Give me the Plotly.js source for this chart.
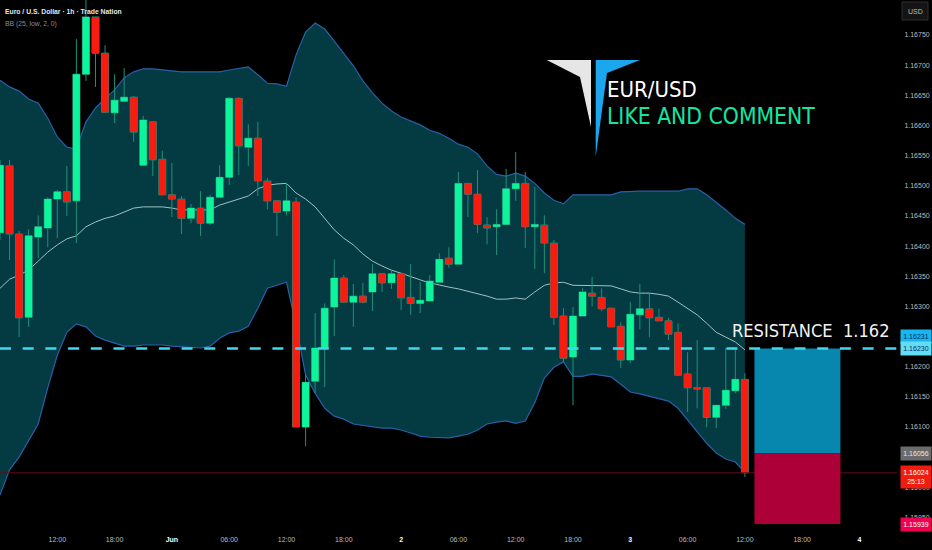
<!DOCTYPE html>
<html><head><meta charset="utf-8">
<script src="https://cdn.plot.ly/plotly-3.0.1.min.js"></script>
<style>html,body{margin:0;padding:0;background:#000}#c{width:932px;height:550px}</style>
</head><body><div id="c"></div>
<script>
const open = [1.16422,1.16533,1.16420,1.16282,1.16415,1.16430,1.16478,1.16490,1.16475,1.16685,1.16780,1.16720,1.16621,1.16640,1.16647,1.16534,1.16606,1.16544,1.16485,1.16478,1.16446,1.16463,1.16438,1.16481,1.16514,1.16645,1.16564,1.16579,1.16508,1.16475,1.16458,1.16473,1.16100,1.16176,1.16231,1.16299,1.16347,1.16307,1.16317,1.16324,1.16354,1.16339,1.16354,1.16315,1.16305,1.16309,1.16340,1.16380,1.16370,1.16504,1.16486,1.16435,1.16432,1.16436,1.16495,1.16504,1.16432,1.16435,1.16405,1.16284,1.16216,1.16284,1.16322,1.16315,1.16297,1.16267,1.16211,1.16286,1.16296,1.16282,1.16276,1.16257,1.16188,1.16165,1.16165,1.16116,1.16136,1.16160,1.16179];
const high = [1.16543,1.16543,1.16425,1.16428,1.16451,1.16481,1.16493,1.16533,1.16743,1.16815,1.16780,1.16733,1.16685,1.16695,1.16649,1.16616,1.16607,1.16558,1.16538,1.16483,1.16470,1.16491,1.16485,1.16534,1.16647,1.16647,1.16602,1.16606,1.16513,1.16476,1.16505,1.16481,1.16186,1.16289,1.16305,1.16378,1.16352,1.16337,1.16339,1.16370,1.16354,1.16359,1.16354,1.16370,1.16340,1.16352,1.16388,1.16398,1.16523,1.16504,1.16526,1.16448,1.16461,1.16528,1.16556,1.16523,1.16498,1.16451,1.16410,1.16297,1.16299,1.16330,1.16349,1.16330,1.16297,1.16274,1.16307,1.16337,1.16322,1.16296,1.16281,1.16272,1.16224,1.16244,1.16165,1.16136,1.16231,1.16228,1.16189];
const low = [1.16410,1.16377,1.16249,1.16266,1.16380,1.16398,1.16413,1.16450,1.16405,1.16674,1.16664,1.16622,1.16604,1.16639,1.16573,1.16534,1.16516,1.16485,1.16448,1.16420,1.16438,1.16417,1.16435,1.16481,1.16501,1.16518,1.16533,1.16483,1.16461,1.16417,1.16451,1.16100,1.16068,1.16156,1.16166,1.16251,1.16307,1.16266,1.16305,1.16292,1.16324,1.16329,1.16294,1.16286,1.16289,1.16309,1.16340,1.16364,1.16370,1.16448,1.16422,1.16403,1.16385,1.16436,1.16475,1.16397,1.16362,1.16355,1.16269,1.16208,1.16136,1.16284,1.16300,1.16292,1.16266,1.16198,1.16206,1.16262,1.16249,1.16276,1.16244,1.16186,1.16125,1.16131,1.16100,1.16098,1.16130,1.16156,1.16017];
const close = [1.16534,1.16420,1.16281,1.16417,1.16432,1.16478,1.16490,1.16473,1.16685,1.16780,1.16720,1.16622,1.16642,1.16647,1.16589,1.16609,1.16543,1.16485,1.16478,1.16446,1.16463,1.16438,1.16481,1.16514,1.16645,1.16566,1.16579,1.16508,1.16475,1.16456,1.16475,1.16100,1.16174,1.16231,1.16297,1.16347,1.16307,1.16317,1.16307,1.16354,1.16339,1.16354,1.16314,1.16305,1.16310,1.16342,1.16378,1.16370,1.16504,1.16486,1.16436,1.16430,1.16436,1.16495,1.16504,1.16432,1.16436,1.16405,1.16282,1.16214,1.16284,1.16324,1.16317,1.16296,1.16266,1.16211,1.16287,1.16296,1.16281,1.16276,1.16254,1.16186,1.16165,1.16163,1.16116,1.16136,1.16161,1.16179,1.16024];
const bbUpper = [1.16675,1.16664,1.16657,1.16644,1.16637,1.16612,1.16581,1.16564,1.16561,1.16606,1.16629,1.16645,1.16659,1.16679,1.16689,1.16694,1.16694,1.16692,1.16690,1.16689,1.16689,1.16689,1.16689,1.16689,1.16692,1.16694,1.16697,1.16684,1.16670,1.16669,1.16665,1.16717,1.16755,1.16770,1.16760,1.16740,1.16720,1.16699,1.16674,1.16654,1.16637,1.16624,1.16614,1.16607,1.16601,1.16592,1.16587,1.16579,1.16569,1.16564,1.16553,1.16533,1.16519,1.16516,1.16521,1.16516,1.16504,1.16488,1.16476,1.16470,1.16485,1.16485,1.16485,1.16485,1.16485,1.16490,1.16491,1.16491,1.16491,1.16491,1.16491,1.16491,1.16495,1.16495,1.16485,1.16473,1.16460,1.16446,1.16436];
const bbBasis = [1.16330,1.16345,1.16352,1.16360,1.16375,1.16390,1.16402,1.16412,1.16417,1.16432,1.16440,1.16446,1.16450,1.16456,1.16463,1.16465,1.16465,1.16465,1.16463,1.16460,1.16460,1.16460,1.16460,1.16468,1.16473,1.16478,1.16483,1.16495,1.16501,1.16503,1.16504,1.16488,1.16478,1.16465,1.16446,1.16427,1.16413,1.16402,1.16387,1.16375,1.16367,1.16360,1.16355,1.16349,1.16344,1.16339,1.16335,1.16332,1.16329,1.16325,1.16322,1.16317,1.16312,1.16312,1.16314,1.16312,1.16324,1.16335,1.16339,1.16340,1.16335,1.16335,1.16335,1.16335,1.16334,1.16329,1.16324,1.16322,1.16322,1.16320,1.16317,1.16307,1.16297,1.16286,1.16272,1.16257,1.16249,1.16241,1.16228];
const bbLower = [1.15987,1.16029,1.16050,1.16077,1.16105,1.16165,1.16219,1.16257,1.16271,1.16266,1.16251,1.16244,1.16239,1.16234,1.16234,1.16236,1.16236,1.16236,1.16234,1.16233,1.16231,1.16231,1.16234,1.16247,1.16256,1.16259,1.16267,1.16297,1.16330,1.16335,1.16340,1.16269,1.16186,1.16156,1.16131,1.16118,1.16113,1.16105,1.16103,1.16100,1.16098,1.16098,1.16095,1.16090,1.16085,1.16083,1.16082,1.16082,1.16085,1.16088,1.16095,1.16105,1.16108,1.16110,1.16106,1.16110,1.16140,1.16181,1.16199,1.16208,1.16184,1.16184,1.16188,1.16186,1.16183,1.16171,1.16158,1.16155,1.16151,1.16148,1.16143,1.16131,1.16111,1.16092,1.16073,1.16057,1.16047,1.16042,1.16025];
const priceTicks = [1.1595,1.16,1.1605,1.161,1.1615,1.162,1.1625,1.163,1.1635,1.164,1.1645,1.165,1.1655,1.166,1.1665,1.167,1.1675];
const timeTicks = [0,6,12,18,24,30,36,42,48,54,60,66,72,78,84,90];
const wd = s => '<b><span style="color:#ffffff">' + s + '</span></b>';
const timeLabels = ["06:00","12:00","18:00",wd("Jun"),"06:00","12:00","18:00",wd("2"),"06:00","12:00","18:00",wd("3"),"06:00","12:00","18:00",wd("4")];
const resistance = 1.1623, resistanceTag = 1.16231, entry = 1.16056, lastPrice = 1.16024, target = 1.15939;
const boxStart = 79, boxEnd = 88;

const xs = open.map((_, i) => i);
const plotW = 897, plotH = 528;
const pxX = v => v / plotW, pxY = v => 1 - v / plotH;
const yr = [1.159325, 1.168081];
const sans = "'Liberation Sans', Arial, sans-serif", cond = "'DejaVu Sans Condensed', 'DejaVu Sans', sans-serif";
const UP = "#0cf59b", DOWN = "#f81c10", WICK = "#1f9078";
const bodyHi = open.map((o, i) => Math.max(o, close[i]));
const bodyLo = open.map((o, i) => Math.min(o, close[i]));

const traces = [
  {type:"scatter",mode:"lines",x:xs,y:bbUpper,line:{color:"#2860a8",width:1.2},hoverinfo:"skip"},
  {type:"scatter",mode:"lines",x:xs,y:bbLower,line:{color:"#2860a8",width:1.2},fill:"tonexty",fillcolor:"#043a42",hoverinfo:"skip"},
  {type:"scatter",mode:"lines",x:xs,y:bbBasis,line:{color:"#9fc2c2",width:1},hoverinfo:"skip"},
  {type:"candlestick",x:xs,open:open,high:high,low:low,close:close,yaxis:"y2",
   increasing:{line:{color:WICK,width:1},fillcolor:WICK},decreasing:{line:{color:WICK,width:1},fillcolor:WICK},hoverinfo:"skip"},
  {type:"candlestick",x:xs,open:open,high:bodyHi,low:bodyLo,close:close,yaxis:"y2",
   increasing:{line:{color:UP,width:0},fillcolor:UP},decreasing:{line:{color:DOWN,width:0},fillcolor:DOWN},hoverinfo:"skip"}
];
const poly = pts => "M" + pts.map(p => pxX(p[0]) + "," + pxY(p[1])).join(" L") + " Z";
const shapes = [
  {type:"line",xref:"paper",x0:0,x1:1,yref:"y",y0:lastPrice,y1:lastPrice,line:{color:"#5e0d16",width:1},layer:"above"},
  {type:"rect",xref:"x",x0:boxStart,x1:boxEnd,yref:"y",y0:entry,y1:resistance,fillcolor:"#0787ad",line:{width:0},layer:"above"},
  {type:"rect",xref:"x",x0:boxStart,x1:boxEnd,yref:"y",y0:target,y1:entry,fillcolor:"#ae0038",line:{width:0},layer:"above"},
  {type:"line",xref:"paper",x0:0,x1:1,yref:"y",y0:resistance,y1:resistance,line:{color:"#3fd8f0",width:2.5,dash:"11px,11.7px"},layer:"above"},
  {type:"path",xref:"paper",yref:"paper",path:poly([[546.7,60],[591,60],[591,127],[580,77]]),fillcolor:"#e6e6e6",line:{width:0},layer:"above"},
  {type:"path",xref:"paper",yref:"paper",path:poly([[595.7,60],[640,60],[607,73],[595.7,157]]),fillcolor:"#1ca6ee",line:{width:0},layer:"above"},
  {type:"rect",xref:"paper",yref:"paper",x0:pxX(902),x1:pxX(928),y0:pxY(2),y1:pxY(20),fillcolor:"#141414",line:{color:"#2e2e2e",width:1},layer:"above"}
];
const txt = (t, x, y, size, color, fam, anchor) => ({text:t,xref:"paper",yref:"paper",x:pxX(x),y:pxY(y),xanchor:anchor||"left",yanchor:"middle",showarrow:false,borderpad:0,font:{size:size,color:color,family:fam||sans}});
const tag = (t, price, shift, bg, col, h) => ({text:t,xref:"paper",yref:"y",x:pxX(900),y:price,yshift:shift,xanchor:"left",yanchor:"middle",showarrow:false,width:30,height:h||13,borderpad:0,bgcolor:bg,font:{size:7,color:col,family:sans}});
const annotations = [
  txt("<b>Euro / U.S. Dollar · 1h · Trade Nation</b>",4,12,6.8,"#e6e6e6"),
  txt("BB (25, low, 2, 0)",4,24,6.8,"#8c8c8c"),
  txt("EUR/USD",606,89,22,"#ffffff",cond),
  txt("LIKE AND COMMENT",606,116,22.7,"#14e6a0",cond),
  txt("RESISTANCE&nbsp;&nbsp;1.162",731,330,18.1,"#f2f2f2",cond),
  txt("USD",915,12,7,"#bdbdbd",sans,"center"),
  tag("1.16231",resistanceTag,12,"#19b4f2","#083050"),
  tag("1.16230",resistance,0,"#63dcf5","#083050"),
  tag(entry.toFixed(5),entry,0,"#6b6b6b","#e6e6e6"),
  tag(lastPrice.toFixed(5)+"<br>25:13",lastPrice,-4,"#f01c10","#ffffff",22),
  tag(target.toFixed(5),target,0,"#f00052","#ffffff")
];
const layout = {
  width:932,height:550,autosize:false,margin:{l:0,r:35,t:0,b:22,pad:0},
  paper_bgcolor:"#000",plot_bgcolor:"#000",showlegend:false,hovermode:false,boxgap:0.27,boxgroupgap:0,boxmode:"overlay",
  xaxis:{range:[0,plotW/9.55],rangeslider:{visible:false},showgrid:false,zeroline:false,showline:false,
    tickmode:"array",tickvals:timeTicks,ticktext:timeLabels,ticks:"outside",ticklen:5,tickcolor:"#000",
    tickfont:{size:7,color:"#bdbdbd",family:sans},tickangle:0},
  yaxis:{range:yr,side:"right",showgrid:false,zeroline:false,showline:false,tickmode:"array",tickvals:priceTicks,
    ticktext:priceTicks.map(v=>v.toFixed(5)),ticks:"outside",ticklen:5,tickcolor:"#000",tickfont:{size:7,color:"#bdbdbd",family:sans}},
  yaxis2:{range:yr,overlaying:"y",side:"right",visible:false},
  shapes:shapes,annotations:annotations
};
Plotly.newPlot("c",traces,layout,{displayModeBar:false,staticPlot:true});
</script></body></html>
